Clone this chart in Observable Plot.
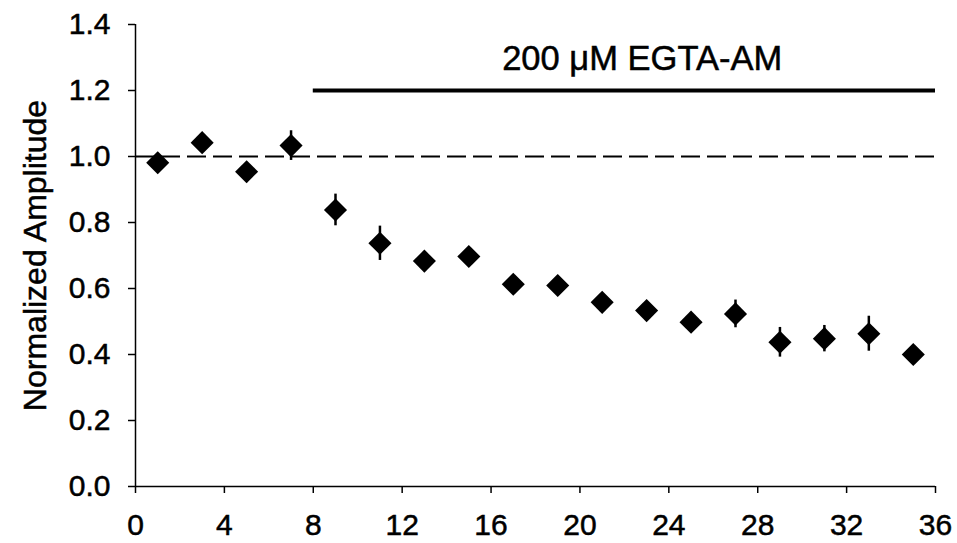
<!DOCTYPE html>
<html>
<head>
<meta charset="utf-8">
<script src="https://cdn.jsdelivr.net/npm/d3@7"></script>
<script src="https://cdn.jsdelivr.net/npm/@observablehq/plot@0.6"></script>
<style>
  html, body { margin: 0; padding: 0; background: #fff; }
  /* slightly heavier glyphs for all chart text */
  #chart svg text { stroke: #000; stroke-width: 0.5px; }
</style>
</head>
<body>
<div id="chart"></div>
<script>
// Recording time (min) and normalized response amplitude (mean ± SEM)
const minutes   = [1, 3, 5, 7, 9, 11, 13, 15, 17, 19, 21, 23, 25, 27, 29, 31, 33, 35];
const amplitude = [0.981, 1.042, 0.954, 1.033, 0.838, 0.737, 0.683, 0.697, 0.613, 0.609,
                   0.558, 0.533, 0.498, 0.523, 0.437, 0.448, 0.463, 0.400];
const sem       = [0.02, 0.02, 0.02, 0.045, 0.048, 0.052, 0.02, 0.02, 0.02, 0.02,
                   0.02, 0.02, 0.02, 0.042, 0.045, 0.040, 0.053, 0.02];

const xTicks = [0, 4, 8, 12, 16, 20, 24, 28, 32, 36];
const yTicks = [0, 0.2, 0.4, 0.6, 0.8, 1.0, 1.2, 1.4];

const baseline = [1.0];
const drugLabel = ["200 μM EGTA-AM"];
const drugStart = [8];
const drugEnd = [36];
const drugLevel = [1.2];

const points = minutes.map((m, i) => ({minute: m, amp: amplitude[i], err: sem[i]}));
const drugBar = drugStart.map((s, i) => ({start: s, end: drugEnd[i], level: drugLevel[i], label: drugLabel[i]}));

const font = "'Liberation Sans', Arial, Helvetica, sans-serif";

const chart = Plot.plot({
  width: 957,
  height: 543,
  marginLeft: 135,
  marginRight: 22,
  marginTop: 24,
  marginBottom: 57,
  style: {fontFamily: font, fontSize: "30px", color: "#000", background: "#fff"},
  x: {domain: [0, 36]},
  y: {domain: [0, 1.4]},
  marks: [
    // axes
    Plot.axisX({
      ticks: xTicks, tickSize: 7, tickPadding: 20, fontSize: 30,
      tickFormat: d3.format("d"), label: null, strokeWidth: 1.5
    }),
    Plot.axisY({
      ticks: yTicks, tickSize: 7, tickPadding: 18, fontSize: 30,
      tickFormat: d3.format(".1f"),
      label: "Normalized Amplitude", labelAnchor: "center", labelArrow: "none",
      labelOffset: 112, strokeWidth: 1.5
    }),
    Plot.ruleX([0], {y1: 0, y2: 1.4, stroke: "#000", strokeWidth: 1.5}),
    Plot.ruleY([0], {x1: 0, x2: 36, stroke: "#000", strokeWidth: 1.5}),

    // baseline at 1.0
    Plot.ruleY(baseline, {x1: 0, x2: 36, stroke: "#000", strokeWidth: 2, strokeDasharray: "19,7"}),

    // drug application bar and label
    Plot.ruleY(drugBar, {y: "level", x1: "start", x2: "end", stroke: "#000", strokeWidth: 4}),
    Plot.text(drugBar, {
      x: 22.8, y: 1.295, text: "label", fontSize: 34.5, fill: "#000",
      textAnchor: "middle", lineAnchor: "middle"
    }),

    // error bars
    Plot.ruleX(points, {
      x: "minute", y1: d => d.amp - d.err, y2: d => d.amp + d.err,
      stroke: "#000", strokeWidth: 2.5
    }),

    // mean values
    Plot.dot(points, {x: "minute", y: "amp", symbol: "diamond2", r: 10.4, fill: "#000", stroke: "none"})
  ]
});

// enlarge the y-axis title a little relative to the tick labels
chart.querySelectorAll("text").forEach(t => {
  if (t.textContent === "Normalized Amplitude") t.setAttribute("font-size", 32);
});

document.getElementById("chart").append(chart);
</script>
</body>
</html>
